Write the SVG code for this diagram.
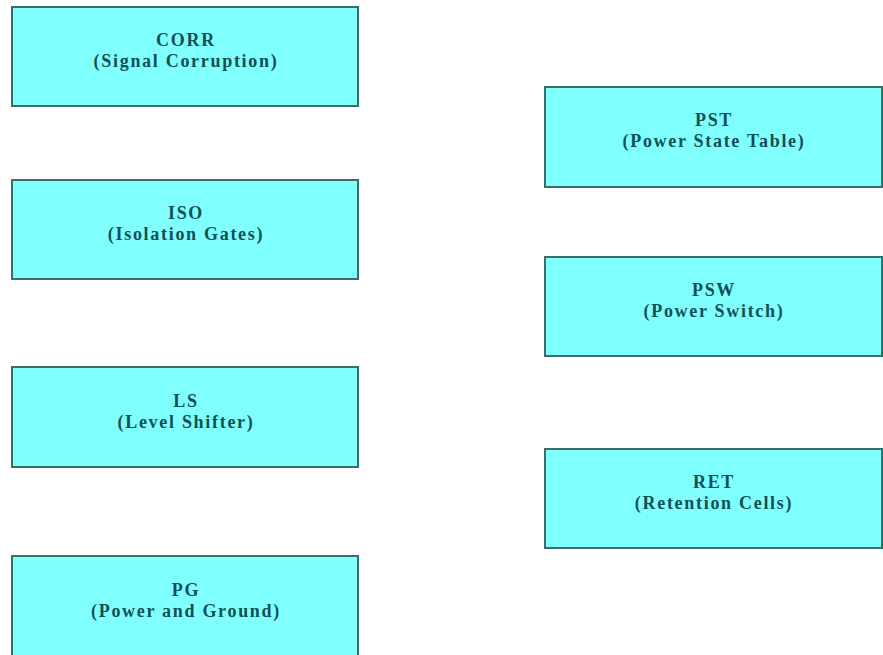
<svg xmlns="http://www.w3.org/2000/svg" width="883" height="655" viewBox="0 0 883 655">
<style>
.box{fill:#80ffff;stroke:#3f6b6b;stroke-width:2}
.t{font-family:"Liberation Serif","Times New Roman",serif;font-weight:bold;font-size:18px;letter-spacing:1.7px;fill:#124f55;text-anchor:middle}
</style>
<rect width="883" height="655" fill="#ffffff"/>
<g id="connectors"></g>
<g id="CORR"><rect class="box" x="12" y="7" width="346" height="99"/><text class="t" x="186" y="46">CORR</text><text class="t" x="186" y="67">(Signal Corruption)</text></g>
<g id="ISO"><rect class="box" x="12" y="180" width="346" height="99"/><text class="t" x="186" y="219">ISO</text><text class="t" x="186" y="240">(Isolation Gates)</text></g>
<g id="LS"><rect class="box" x="12" y="367" width="346" height="100"/><text class="t" x="186" y="407">LS</text><text class="t" x="186" y="428">(Level Shifter)</text></g>
<g id="PG"><rect class="box" x="12" y="556" width="346" height="104"/><text class="t" x="186" y="596">PG</text><text class="t" x="186" y="617">(Power and Ground)</text></g>
<g id="PST"><rect class="box" x="545" y="87" width="337" height="100"/><text class="t" x="714" y="126">PST</text><text class="t" x="714" y="147">(Power State Table)</text></g>
<g id="PSW"><rect class="box" x="545" y="257" width="337" height="99"/><text class="t" x="714" y="296">PSW</text><text class="t" x="714" y="317">(Power Switch)</text></g>
<g id="RET"><rect class="box" x="545" y="449" width="337" height="99"/><text class="t" x="714" y="488">RET</text><text class="t" x="714" y="509">(Retention Cells)</text></g>
</svg>
